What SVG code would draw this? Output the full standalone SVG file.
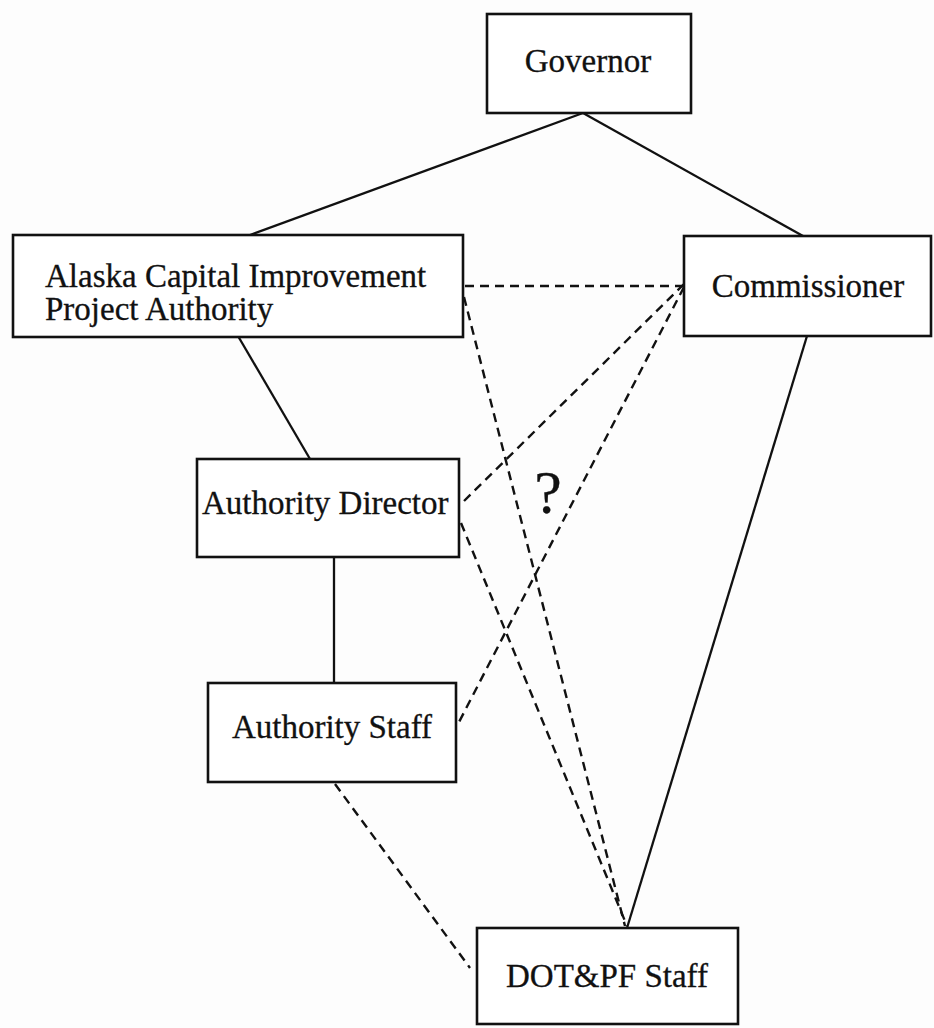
<svg xmlns="http://www.w3.org/2000/svg" width="934" height="1028" viewBox="0 0 934 1028">
<style>
.box{fill:#fff;stroke:#111;stroke-width:2.6}
.t{font-family:"Liberation Serif","Times New Roman",serif;font-size:33px;fill:#111;stroke:#111;stroke-width:0.3}
.s{fill:none;stroke:#111;stroke-width:2.3}
.d{fill:none;stroke:#111;stroke-width:2.4;stroke-dasharray:9 6}
</style>
<rect width="934" height="1028" fill="#fdfdfd"/>
<g id="connectors">
<line class="s" x1="583" y1="113" x2="250" y2="235"/>
<line class="s" x1="583" y1="113" x2="803" y2="236"/>
<line class="s" x1="238" y1="336" x2="310" y2="459"/>
<line class="s" x1="334" y1="557" x2="334" y2="683"/>
<line class="s" x1="807" y1="336" x2="627" y2="928"/>
<line class="d" x1="465" y1="286" x2="684" y2="286"/>
<line class="d" x1="464" y1="297" x2="625" y2="926"/>
<line class="d" x1="684" y1="284" x2="461" y2="504"/>
<line class="d" x1="684" y1="287" x2="458" y2="724"/>
<line class="d" x1="461" y1="523" x2="627" y2="926"/>
<line class="d" x1="335" y1="784" x2="470" y2="968"/>
</g>
<g id="governor">
<rect class="box" x="487" y="14" width="204" height="99"/>
<text class="t" x="588" y="72" text-anchor="middle">Governor</text>
</g>
<g id="acipa">
<rect class="box" x="13" y="235" width="450" height="102"/>
<text class="t" x="45" y="287">Alaska Capital Improvement</text>
<text class="t" x="45" y="320">Project Authority</text>
</g>
<g id="commissioner">
<rect class="box" x="684" y="236" width="247" height="100"/>
<text class="t" x="808" y="297" text-anchor="middle">Commissioner</text>
</g>
<g id="authority-director">
<rect class="box" x="197" y="459" width="262" height="98"/>
<text class="t" x="202" y="514">Authority Director</text>
</g>
<g id="authority-staff">
<rect class="box" x="208" y="683" width="248" height="99"/>
<text class="t" x="332" y="738" text-anchor="middle">Authority Staff</text>
</g>
<g id="dotpf-staff">
<rect class="box" x="477" y="928" width="261" height="96"/>
<text class="t" x="607" y="987" text-anchor="middle">DOT&amp;PF Staff</text>
</g>
<g id="question">
<text class="t" x="548" y="513" text-anchor="middle" style="font-size:62px">?</text>
</g>
</svg>
